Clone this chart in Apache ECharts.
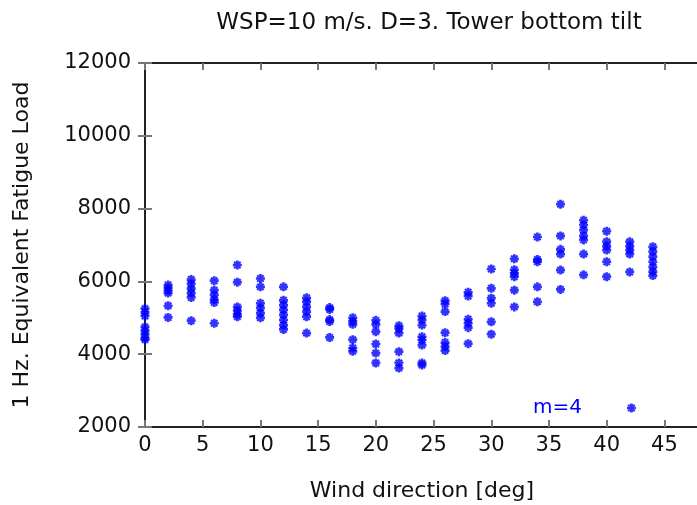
<!DOCTYPE html>
<html>
<head>
<meta charset="utf-8">
<script src="https://cdn.jsdelivr.net/npm/echarts@6/dist/echarts.min.js"></script>
<style>
html,body{margin:0;padding:0;background:#fff;}
#chart{width:697px;height:505px;}
</style>
</head>
<body>
<div id="chart"></div>
<script>
// Wind directions [deg]
const directions = [0, 2, 4, 6, 8, 10, 12, 14, 16, 18, 20, 22, 24, 26, 28, 30, 32, 34, 36, 38, 40, 42, 44];
// 1 Hz equivalent fatigue load, one list per direction
const loads = [
  [5250, 5150, 5050, 4750, 4650, 4550, 4450, 4400],
  [5900, 5820, 5750, 5680, 5330, 5010],
  [6050, 5930, 5800, 5680, 5560, 4920],
  [6020, 5760, 5630, 5500, 5420, 4850],
  [6450, 5980, 5300, 5200, 5100, 5030],
  [6080, 5850, 5400, 5270, 5130, 5000],
  [5850, 5480, 5350, 5220, 5080, 4940, 4800, 4680],
  [5550, 5440, 5300, 5170, 5030, 4580],
  [5280, 5230, 4950, 4900, 4460],
  [5000, 4900, 4820, 4400, 4170, 4080],
  [4930, 4820, 4620, 4280, 4030, 3760],
  [4780, 4700, 4580, 4070, 3760, 3620],
  [5050, 4940, 4800, 4480, 4390, 4250, 3760, 3700],
  [5470, 5380, 5170, 4590, 4320, 4210, 4100],
  [5700, 5600, 4960, 4850, 4730, 4290],
  [6340, 5810, 5540, 5400, 4890, 4550],
  [6620, 6320, 6220, 6130, 5760, 5300],
  [7220, 6600, 6540, 5850, 5440],
  [8120, 7250, 6880, 6750, 6310, 5780],
  [7680, 7550, 7410, 7250, 7140, 6750, 6180],
  [7380, 7090, 6970, 6860, 6540, 6130],
  [7090, 6970, 6860, 6750, 6260],
  [6950, 6820, 6680, 6540, 6400, 6270, 6160]
];
const seriesName = 'm=4';
const titleText = 'WSP=10 m/s. D=3. Tower bottom tilt';
const xName = 'Wind direction [deg]';
const yName = '1 Hz. Equivalent Fatigue Load';

const points = [];
directions.forEach((d, i) => loads[i].forEach(v => points.push([d, v])));

const FONT = 'DejaVu Sans';
const FS = 21;
const star = 'path://M-1,-0.3L1,-0.3L1,0.3L-1,0.3ZM-0.3,-1L0.3,-1L0.3,1L-0.3,1ZM-0.88,-0.55L-0.55,-0.88L0.88,0.55L0.55,0.88ZM0.55,-0.88L0.88,-0.55L-0.55,0.88L-0.88,0.55Z';

const chart = echarts.init(document.getElementById('chart'), null, {renderer: 'canvas'});
const axisLine = {show: true, lineStyle: {color: '#222', width: 2}};
const tick = {show: true, inside: true, length: 7, lineStyle: {color: '#777', width: 2}};
chart.setOption({
  animation: false,
  backgroundColor: '#fff',
  title: {
    text: titleText, left: 424, top: 7, textAlign: 'center',
    textStyle: {fontFamily: FONT, fontSize: 23, fontWeight: 'normal', color: '#111'}
  },
  legend: {
    data: [seriesName], left: 528, top: 393, align: 'right',
    itemWidth: 9, itemHeight: 9,
    textStyle: {fontFamily: FONT, fontSize: 20, color: '#0000ff', padding: [0, 40, 0, 0]}
  },
  grid: {left: 145, top: 63, right: -2, bottom: 78, containLabel: false, outerBoundsMode: 'none'},
  xAxis: [{
    type: 'value', min: 0, max: 48, interval: 5, position: 'bottom',
    name: xName, nameLocation: 'middle', nameGap: 53,
    nameTextStyle: {fontFamily: FONT, fontSize: 22, color: '#111'},
    axisLine: axisLine, axisTick: tick, splitLine: {show: false},
    axisLabel: {fontFamily: FONT, fontSize: FS, color: '#111', margin: 8, showMaxLabel: false}
  }, {
    type: 'value', min: 0, max: 48, interval: 5, position: 'top',
    axisLine: axisLine, axisTick: tick, splitLine: {show: false},
    axisLabel: {show: false}
  }],
  yAxis: [{
    type: 'value', min: 2000, max: 12000, interval: 2000, position: 'left',
    name: yName, nameLocation: 'middle', nameGap: 112,
    nameTextStyle: {fontFamily: FONT, fontSize: 22, color: '#111'},
    axisLine: axisLine, axisTick: tick, splitLine: {show: false},
    axisLabel: {fontFamily: FONT, fontSize: FS, color: '#111', margin: 14, formatter: v => String(v)}
  }, {
    type: 'value', min: 2000, max: 12000, interval: 2000, position: 'right',
    axisLine: axisLine, axisTick: tick, splitLine: {show: false},
    axisLabel: {show: false}
  }],
  series: [{
    name: seriesName, type: 'scatter', data: points,
    symbol: star, symbolSize: 9,
    itemStyle: {color: '#0000ff'}
  }]
});
</script>
</body>
</html>
